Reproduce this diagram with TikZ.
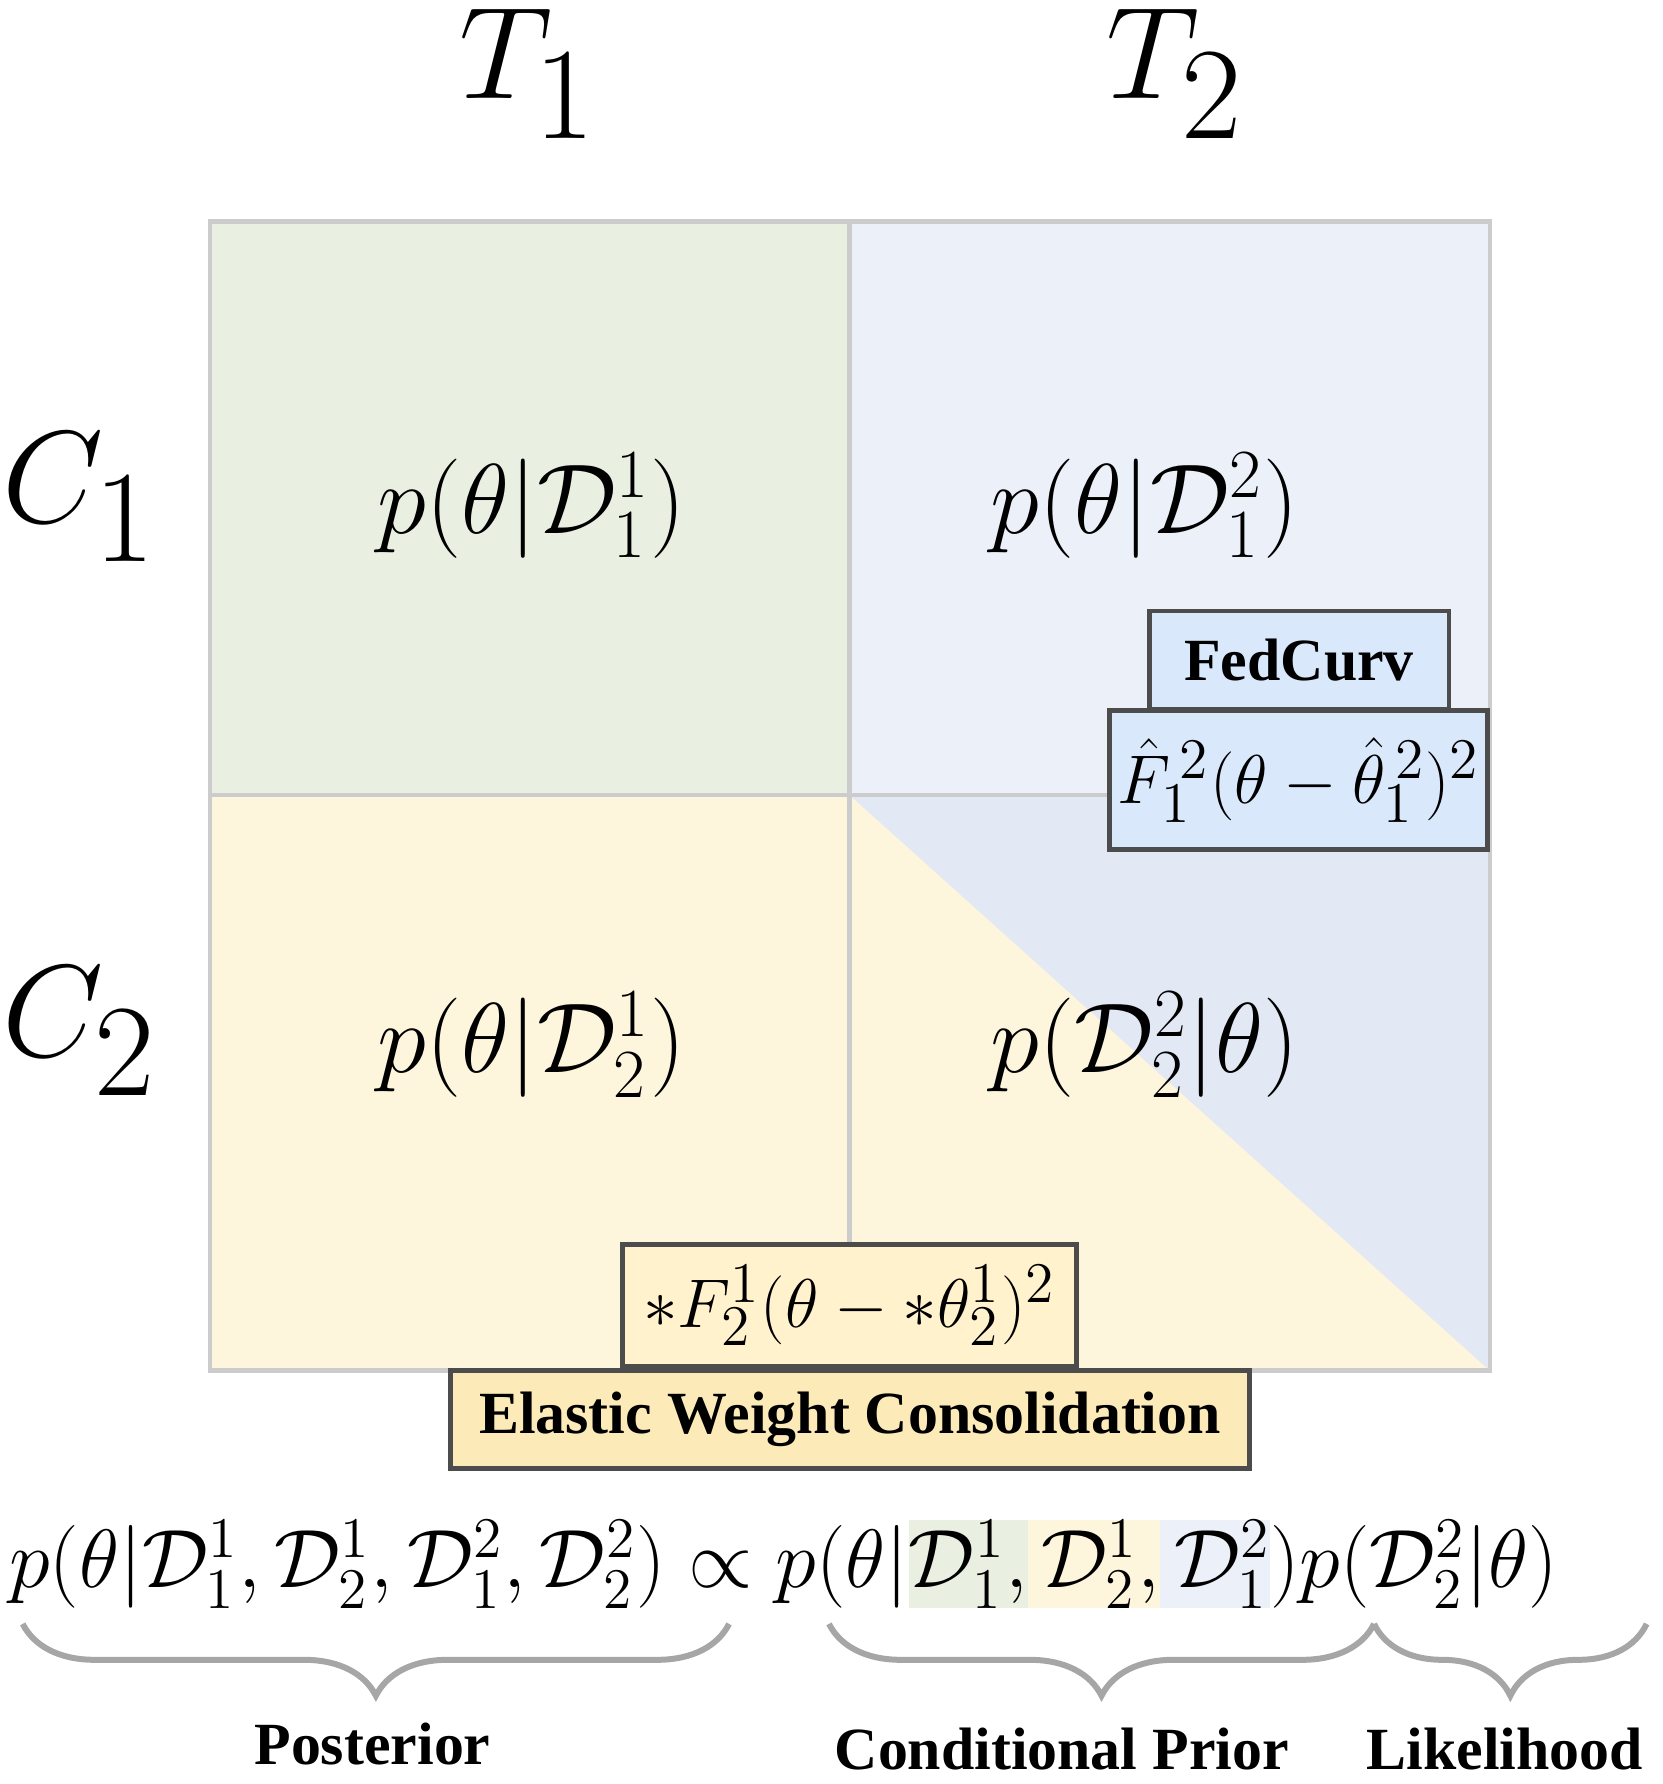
\documentclass[tikz,border=0pt]{standalone}
\usepackage{fontspec}
\setmainfont{Liberation Serif}
\usetikzlibrary{decorations.pathreplacing}
\definecolor{cg}{HTML}{E9F0E1}
\definecolor{cb}{HTML}{EBF0F9}
\definecolor{cb2}{HTML}{E3E9F4}
\definecolor{cy}{HTML}{FDF5DC}
\definecolor{bx}{HTML}{DAE8FC}
\definecolor{yx}{HTML}{FFF2CC}
\definecolor{yx2}{HTML}{FCEBB8}
\tikzset{
 big/.style={font=\fontsize{60}{64}\selectfont},
 cell/.style={font=\fontsize{25}{28}\selectfont},
 tag/.style={draw=black!70,line width=1.2pt,inner sep=0,font=\fontsize{15}{18}\selectfont\bfseries},
 eq/.style={inner sep=0,outer sep=0,anchor=base west,font=\fontsize{21.5}{26}\selectfont},
 brc/.style={draw=black!35,line width=1.5pt,decorate,decoration={brace,mirror,amplitude=18pt}},
 lbl/.style={font=\fontsize{15}{18}\selectfont\bfseries}
}
\newcommand{\bigsym}[1]{\scalebox{1.32}{$#1$}}
\begin{document}
\begin{tikzpicture}
\useasboundingbox (0,0) rectangle (14.64,-15.71);
% cells
\fill[cg] (1.85,-1.95) rectangle (7.48,-7.00);
\fill[cb] (7.48,-1.95) rectangle (13.12,-7.00);
\fill[cy] (1.85,-7.00) rectangle (13.12,-12.07);
\fill[cb2] (7.48,-7.00) -- (13.12,-12.07) -- (13.12,-7.00) -- cycle;
\draw[black!20,line width=1.2pt] (1.85,-1.95) rectangle (13.12,-12.07);
\draw[black!20,line width=1.2pt] (7.48,-1.95) -- (7.48,-12.07);
\draw[black!20,line width=1.2pt] (1.85,-7.00) -- (13.12,-7.00);
\node[big] (t1) at (4.65,-0.65) {\bigsym{T_1}};
\node[big] (t2) at (10.35,-0.65) {\bigsym{T_2}};
\node[big] (c1) at (0.70,-4.38) {\bigsym{C_1}};
\node[big] (c2) at (0.70,-9.08) {\bigsym{C_2}};
\node[cell] (p11) at (4.68,-4.45) {$p\bigl(\theta|\mathcal{D}^1_1\bigr)$};
\node[cell] (p12) at (10.08,-4.45) {$p\bigl(\theta|\mathcal{D}^2_1\bigr)$};
\node[cell] (p21) at (4.68,-9.20) {$p\bigl(\theta|\mathcal{D}^1_2\bigr)$};
\node[cell] (p22) at (10.08,-9.20) {$p\bigl(\mathcal{D}^2_2|\theta\bigr)$};
% FedCurv
\node[tag,fill=bx,minimum width=2.64cm,minimum height=0.87cm] (fc) at (11.44,-5.815) {FedCurv};
\node[tag,fill=bx,minimum width=3.33cm,minimum height=1.22cm,font=\fontsize{19}{22}\selectfont] (fcf) at (11.435,-6.87) {$\hat F^{\,2}_{1}(\theta-\hat\theta^{\,2}_{1})^2$};
% EWC
\node[tag,fill=yx,minimum width=4.00cm,minimum height=1.07cm,font=\fontsize{19}{22}\selectfont] (ewf) at (7.48,-11.495) {$\ast F^1_2(\theta-\ast\theta^1_2)^2$};
\node[tag,fill=yx2,minimum width=7.03cm,minimum height=0.86cm] (ew) at (7.485,-12.50) {Elastic Weight Consolidation};
% equation
\node[eq] (e1) at (0.08,-13.98) {$p\bigl(\theta|\mathcal{D}^1_1,\mathcal{D}^1_2,\mathcal{D}^2_1,\mathcal{D}^2_2\bigr)\propto p\bigl(\theta|$};
\node[eq,fill=cg] (e2) at (e1.base east) {$\vphantom{\bigl(}\mathcal{D}^1_1,$};
\node[eq,fill=cy] (e3) at (e2.base east) {$\vphantom{\bigl(}\,\mathcal{D}^1_2,$};
\node[eq,fill=cb] (e4) at (e3.base east) {$\vphantom{\bigl(}\,\mathcal{D}^2_1$};
\node[eq] (e5) at (e4.base east) {$\bigr)p\bigl(\mathcal{D}^2_2|\theta\bigr)$};
% braces
\coordinate (b1a) at (0.20,-14.30); \coordinate (b1b) at (6.42,-14.30);
\coordinate (b2a) at (7.30,-14.30); \coordinate (b2b) at (12.10,-14.30);
\coordinate (b3a) at (12.10,-14.30); \coordinate (b3b) at (14.50,-14.30);
\draw[brc] (b1a) -- (b1b);
\draw[brc] (b2a) -- (b2b);
\draw[brc] (b3a) -- (b3b);
\node[lbl] (l1) at (3.28,-15.36) {Posterior};
\node[lbl] (l2) at (9.35,-15.40) {Conditional Prior};
\node[lbl] (l3) at (13.25,-15.40) {Likelihood};
\end{tikzpicture}
\end{document}
